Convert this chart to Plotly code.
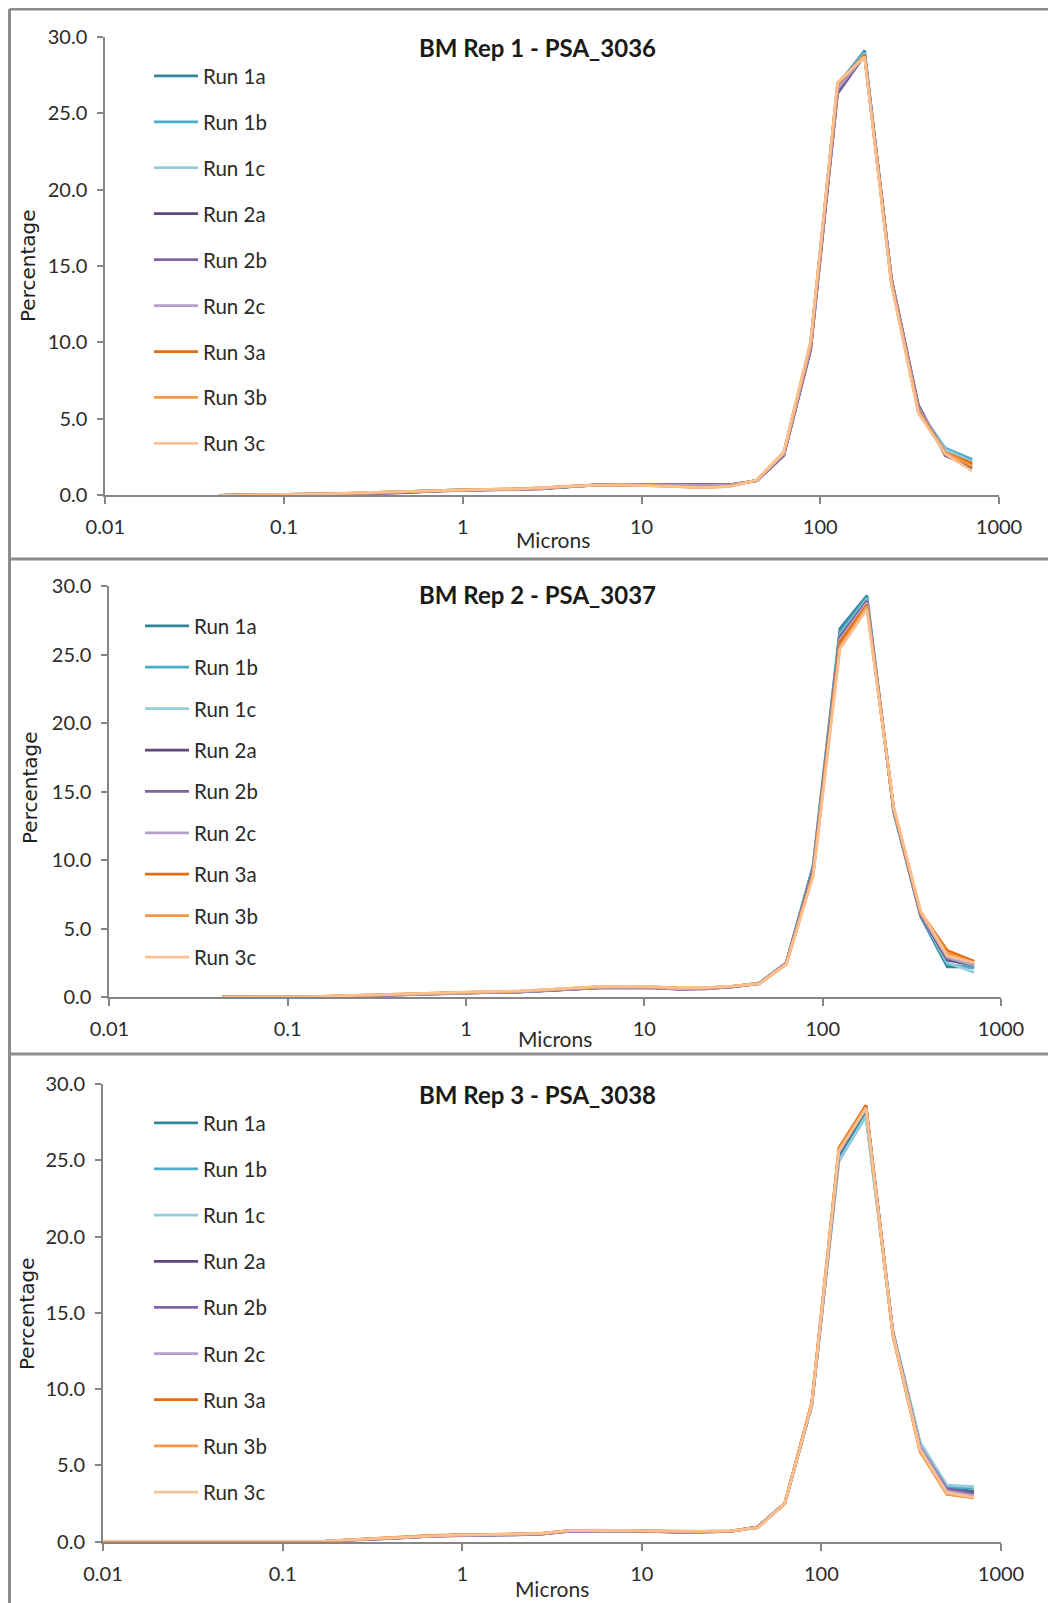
import plotly.graph_objects as go

# The page places the figure 8 px from the top-left corner of the window.
PAGE_OFFSET = 8
W, H = 1056 - PAGE_OFFSET, 1603 - PAGE_OFFSET

# ---------------- data ----------------
run_names = ["Run 1a", "Run 1b", "Run 1c", "Run 2a", "Run 2b", "Run 2c", "Run 3a", "Run 3b", "Run 3c"]
run_colors = ["#31859C", "#4BACC6", "#93CDDD", "#5F497A", "#8064A2", "#B3A2C7", "#E46C0A", "#F79646", "#FAC090"]

titles = ["BM Rep 1 - PSA_3036", "BM Rep 2 - PSA_3037", "BM Rep 3 - PSA_3038"]
x_tick_vals = [0.01, 0.1, 1, 10, 100, 1000]
x_tick_text = ["0.01", "0.1", "1", "10", "100", "1000"]
y_tick_vals = [0, 5, 10, 15, 20, 25, 30]

microns = [0.043, 0.061, 0.086, 0.122, 0.173, 0.244, 0.345, 0.488, 0.691, 0.977, 1.38, 1.95,
           2.76, 3.91, 5.52, 7.81, 11.0, 15.6, 22.1, 31.2, 44.2, 62.5, 88.4, 125, 177, 250, 354, 500, 707]
microns_rep3 = [0.01, 0.0153, 0.0216, 0.0305, 0.043, 0.061, 0.086, 0.122, 0.173, 0.244, 0.345, 0.488,
                0.691, 0.977, 1.38, 1.95, 2.76, 3.91, 5.52, 7.81, 11.0, 15.6, 22.1, 31.2, 44.2, 62.5,
                88.4, 125, 177, 250, 354, 500, 707]

# Rep 1
rep1_run1a = [0, 0.02, 0.03, 0.05, 0.08, 0.13, 0.19, 0.25, 0.31, 0.35, 0.37, 0.39, 0.46, 0.57, 0.66, 0.69, 0.67, 0.61, 0.56, 0.63, 0.98, 2.7, 9.9, 26.8, 29.1, 14.1, 5.6, 3.0, 2.3]
rep1_run1b = [0, 0.02, 0.03, 0.05, 0.08, 0.13, 0.19, 0.25, 0.31, 0.35, 0.37, 0.39, 0.46, 0.57, 0.66, 0.69, 0.67, 0.61, 0.56, 0.63, 0.98, 2.7, 9.9, 26.9, 29.0, 14.0, 5.6, 3.1, 2.35]
rep1_run1c = [0, 0.02, 0.03, 0.05, 0.08, 0.13, 0.19, 0.25, 0.31, 0.35, 0.37, 0.40, 0.47, 0.58, 0.67, 0.69, 0.67, 0.60, 0.55, 0.62, 0.99, 2.7, 9.8, 26.8, 28.9, 14.0, 5.5, 3.0, 2.2]
rep1_run2a = [0, 0, 0.01, 0.02, 0.04, 0.07, 0.11, 0.18, 0.28, 0.34, 0.36, 0.38, 0.42, 0.55, 0.68, 0.72, 0.72, 0.70, 0.68, 0.70, 0.95, 2.6, 9.5, 26.3, 28.8, 14.2, 5.9, 2.6, 1.8]
rep1_run2b = [0, 0.01, 0.02, 0.03, 0.05, 0.09, 0.13, 0.20, 0.29, 0.34, 0.36, 0.38, 0.43, 0.56, 0.68, 0.71, 0.71, 0.68, 0.66, 0.68, 0.96, 2.6, 9.6, 26.4, 28.8, 14.2, 5.8, 2.7, 2.0]
rep1_run2c = [0, 0.01, 0.02, 0.04, 0.06, 0.10, 0.15, 0.22, 0.30, 0.35, 0.37, 0.39, 0.44, 0.57, 0.67, 0.70, 0.70, 0.66, 0.63, 0.66, 0.97, 2.7, 9.7, 26.6, 28.8, 14.1, 5.7, 2.8, 2.0]
rep1_run3a = [0, 0.02, 0.03, 0.06, 0.09, 0.15, 0.20, 0.26, 0.32, 0.36, 0.38, 0.40, 0.48, 0.59, 0.66, 0.68, 0.65, 0.58, 0.52, 0.60, 1.0, 2.8, 10.0, 26.9, 28.8, 13.9, 5.5, 2.8, 2.1]
rep1_run3b = [0, 0.02, 0.04, 0.06, 0.09, 0.15, 0.21, 0.26, 0.32, 0.36, 0.38, 0.41, 0.48, 0.60, 0.66, 0.68, 0.65, 0.57, 0.51, 0.59, 1.0, 2.8, 10.0, 27.0, 28.7, 13.9, 5.4, 2.8, 1.9]
rep1_run3c = [0, 0.02, 0.04, 0.06, 0.10, 0.16, 0.21, 0.27, 0.33, 0.36, 0.38, 0.41, 0.49, 0.60, 0.66, 0.68, 0.64, 0.56, 0.50, 0.58, 1.0, 2.8, 10.1, 27.0, 28.7, 13.8, 5.4, 2.7, 1.6]

# Rep 2
rep2_run1a = [0, 0, 0, 0, 0.04, 0.09, 0.16, 0.21, 0.27, 0.32, 0.35, 0.38, 0.47, 0.59, 0.69, 0.71, 0.70, 0.60, 0.63, 0.75, 1.02, 2.5, 9.6, 26.9, 29.3, 13.5, 5.9, 2.2, 2.2]
rep2_run1b = [0, 0, 0, 0, 0.04, 0.09, 0.16, 0.21, 0.27, 0.32, 0.35, 0.38, 0.47, 0.59, 0.69, 0.71, 0.70, 0.60, 0.63, 0.75, 1.03, 2.5, 9.5, 26.6, 29.2, 13.6, 6.0, 2.4, 2.1]
rep2_run1c = [0, 0, 0, 0, 0.04, 0.09, 0.16, 0.22, 0.28, 0.33, 0.35, 0.38, 0.47, 0.60, 0.70, 0.72, 0.70, 0.60, 0.63, 0.76, 1.03, 2.5, 9.4, 26.4, 29.0, 13.6, 6.0, 2.5, 1.8]
rep2_run2a = [0, 0, 0, 0, 0.02, 0.06, 0.12, 0.18, 0.24, 0.29, 0.33, 0.36, 0.44, 0.56, 0.66, 0.68, 0.67, 0.57, 0.60, 0.73, 0.98, 2.5, 9.3, 26.3, 28.9, 13.7, 6.0, 2.7, 2.3]
rep2_run2b = [0, 0, 0, 0, 0.03, 0.07, 0.13, 0.19, 0.25, 0.30, 0.34, 0.37, 0.45, 0.57, 0.67, 0.69, 0.68, 0.58, 0.61, 0.74, 0.99, 2.5, 9.2, 26.2, 28.8, 13.7, 6.1, 2.8, 2.4]
rep2_run2c = [0, 0, 0, 0, 0.03, 0.08, 0.14, 0.20, 0.26, 0.31, 0.34, 0.37, 0.46, 0.58, 0.68, 0.70, 0.69, 0.59, 0.62, 0.74, 1.0, 2.5, 9.1, 26.1, 28.8, 13.7, 6.1, 2.9, 2.3]
rep2_run3a = [0, 0, 0, 0.01, 0.06, 0.12, 0.20, 0.26, 0.32, 0.37, 0.40, 0.42, 0.52, 0.64, 0.74, 0.76, 0.74, 0.64, 0.67, 0.79, 0.98, 2.4, 9.0, 25.9, 28.6, 13.8, 6.2, 3.4, 2.6]
rep2_run3b = [0, 0, 0, 0.01, 0.06, 0.12, 0.20, 0.26, 0.32, 0.37, 0.40, 0.42, 0.52, 0.64, 0.74, 0.76, 0.74, 0.64, 0.67, 0.79, 0.97, 2.4, 8.9, 25.6, 28.5, 13.8, 6.2, 3.2, 2.5]
rep2_run3c = [0, 0, 0, 0.01, 0.06, 0.12, 0.20, 0.27, 0.33, 0.38, 0.41, 0.43, 0.53, 0.65, 0.75, 0.77, 0.75, 0.65, 0.68, 0.80, 0.97, 2.4, 8.8, 25.4, 28.3, 13.9, 6.3, 3.0, 2.5]

# Rep 3
rep3_run1a = [0, 0, 0, 0, 0, 0, 0, 0, 0.02, 0.11, 0.19, 0.29, 0.39, 0.43, 0.44, 0.46, 0.52, 0.70, 0.73, 0.73, 0.69, 0.64, 0.66, 0.68, 0.93, 2.5, 9.0, 25.2, 28.2, 13.7, 6.3, 3.5, 3.3]
rep3_run1b = [0, 0, 0, 0, 0, 0, 0, 0, 0.02, 0.11, 0.19, 0.29, 0.39, 0.43, 0.44, 0.46, 0.52, 0.70, 0.73, 0.73, 0.69, 0.64, 0.66, 0.68, 0.94, 2.5, 8.9, 25.0, 27.9, 13.8, 6.5, 3.6, 3.5]
rep3_run1c = [0, 0, 0, 0, 0, 0, 0, 0, 0.02, 0.11, 0.19, 0.29, 0.39, 0.43, 0.44, 0.46, 0.53, 0.71, 0.74, 0.74, 0.70, 0.65, 0.67, 0.69, 0.94, 2.5, 8.9, 24.9, 27.9, 13.8, 6.5, 3.7, 3.6]
rep3_run2a = [0, 0, 0, 0, 0, 0, 0, 0, 0.01, 0.08, 0.15, 0.25, 0.35, 0.40, 0.42, 0.44, 0.48, 0.66, 0.70, 0.70, 0.66, 0.61, 0.62, 0.66, 0.96, 2.5, 9.0, 25.4, 28.6, 13.7, 6.2, 3.4, 3.2]
rep3_run2b = [0, 0, 0, 0, 0, 0, 0, 0, 0.01, 0.09, 0.16, 0.26, 0.36, 0.41, 0.42, 0.44, 0.49, 0.67, 0.71, 0.71, 0.67, 0.62, 0.63, 0.67, 0.96, 2.5, 9.0, 25.4, 28.6, 13.7, 6.2, 3.45, 3.15]
rep3_run2c = [0, 0, 0, 0, 0, 0, 0, 0, 0.02, 0.10, 0.17, 0.27, 0.37, 0.42, 0.43, 0.45, 0.50, 0.68, 0.72, 0.72, 0.68, 0.63, 0.64, 0.67, 0.95, 2.5, 9.0, 25.5, 28.5, 13.7, 6.2, 3.3, 3.0]
rep3_run3a = [0, 0, 0, 0, 0, 0, 0, 0, 0, 0.12, 0.20, 0.30, 0.40, 0.43, 0.45, 0.47, 0.53, 0.71, 0.72, 0.72, 0.68, 0.66, 0.67, 0.68, 0.90, 2.5, 9.1, 25.8, 28.6, 13.5, 5.9, 3.1, 2.9]
rep3_run3b = [0, 0, 0, 0, 0, 0, 0, 0, 0.01, 0.12, 0.20, 0.30, 0.40, 0.43, 0.45, 0.47, 0.53, 0.71, 0.72, 0.72, 0.68, 0.66, 0.67, 0.69, 0.90, 2.5, 9.1, 25.7, 28.5, 13.5, 6.0, 3.1, 2.85]
rep3_run3c = [0, 0, 0, 0, 0, 0, 0, 0, 0.02, 0.12, 0.20, 0.31, 0.40, 0.44, 0.45, 0.47, 0.54, 0.72, 0.73, 0.73, 0.69, 0.66, 0.67, 0.69, 0.91, 2.5, 9.0, 25.6, 28.4, 13.6, 6.0, 3.2, 2.9]

rep_series = [
    (microns, [rep1_run1a, rep1_run1b, rep1_run1c, rep1_run2a, rep1_run2b, rep1_run2c, rep1_run3a, rep1_run3b, rep1_run3c]),
    (microns, [rep2_run1a, rep2_run1b, rep2_run1c, rep2_run2a, rep2_run2b, rep2_run2c, rep2_run3a, rep2_run3b, rep2_run3c]),
    (microns_rep3, [rep3_run1a, rep3_run1b, rep3_run1c, rep3_run2a, rep3_run2b, rep3_run2c, rep3_run3a, rep3_run3b, rep3_run3c]),
]

# ---------------- layout geometry (window pixels -> paper fractions) ----------------
def px(xp):
    return (xp - PAGE_OFFSET) / W

def py(yp):
    return 1 - (yp - PAGE_OFFSET) / H

panels = [
    dict(xl=105.3, xr=999, yt=36.8, yb=495.3, ty=47, ylx=28, yly=266, xlx=553, xly=540, lgx=149, lgy=56, gap=16.3),
    dict(xl=109.4, xr=1001, yt=586, yb=997, ty=594, ylx=30, yly=788, xlx=555, xly=1038, lgx=140, lgy=606, gap=11.75),
    dict(xl=103, xr=1001, yt=1084, yb=1541.5, ty=1094, ylx=27, yly=1314, xlx=552, xly=1588, lgx=149, lgy=1103, gap=16.5),
]

TICK_FONT = dict(family="Lato, Carlito, sans-serif", size=20, color="#2b2b2b")
AXIS_COLOR = "#868686"

fig = go.Figure()
layout = dict(
    width=W, height=H,
    margin=dict(l=0, r=0, t=0, b=0, pad=0, autoexpand=False),
    paper_bgcolor="white", plot_bgcolor="white",
    showlegend=True,
    annotations=[], shapes=[],
)

for i, (p, (xs, series)) in enumerate(zip(panels, rep_series)):
    n = "" if i == 0 else str(i + 1)
    leg = "legend" if i == 0 else f"legend{i + 1}"
    for name, color, ys in zip(run_names, run_colors, series):
        fig.add_trace(go.Scatter(
            x=xs, y=ys, mode="lines", name=name,
            line=dict(color=color, width=2.75),
            xaxis=f"x{n}", yaxis=f"y{n}",
            legend=leg, legendgroup=f"rep{i}_{name}",
        ))
    layout[f"xaxis{n}"] = dict(
        type="log", range=[-2, 3], domain=[px(p["xl"]), px(p["xr"])],
        anchor=f"y{n}", tickvals=x_tick_vals, ticktext=x_tick_text, automargin=False,
        showgrid=False, zeroline=False, showline=True, linecolor=AXIS_COLOR, linewidth=2,
        ticks="outside", ticklen=7, tickwidth=2, tickcolor=AXIS_COLOR,
        tickfont=TICK_FONT, ticklabelstandoff=6,
    )
    layout[f"yaxis{n}"] = dict(
        range=[0, 30], domain=[py(p["yb"]), py(p["yt"])], anchor=f"x{n}",
        tickvals=y_tick_vals, tickformat=".1f", automargin=False,
        showgrid=False, zeroline=False, showline=True, linecolor=AXIS_COLOR, linewidth=2,
        ticks="outside", ticklen=6, tickwidth=2, tickcolor=AXIS_COLOR,
        tickfont=TICK_FONT, ticklabelstandoff=6,
    )
    layout[leg] = dict(
        x=px(p["lgx"]), y=py(p["lgy"]), xanchor="left", yanchor="top",
        bgcolor="rgba(0,0,0,0)", borderwidth=0,
        font=dict(family="Lato, Carlito, sans-serif", size=20.5, color="#2b2b2b"),
        tracegroupgap=p["gap"], itemwidth=44, traceorder="grouped",
    )
    layout["annotations"] += [
        dict(text=f"<b>{titles[i]}</b>", x=px(537), y=py(p["ty"]), xref="paper", yref="paper",
             xanchor="center", yanchor="middle", showarrow=False,
             font=dict(family="Lato, Carlito, sans-serif", size=24, color="#1a1a1a")),
        dict(text="Percentage", x=px(p["ylx"]), y=py(p["yly"]), xref="paper", yref="paper",
             xanchor="center", yanchor="middle", showarrow=False, textangle=-90,
             font=dict(family="DejaVu Sans, Verdana, sans-serif", size=20, color="#1f1f1f")),
        dict(text="Microns", x=px(p["xlx"]), y=py(p["xly"]), xref="paper", yref="paper",
             xanchor="center", yanchor="middle", showarrow=False,
             font=dict(family="Lato, Carlito, sans-serif", size=21, color="#2b2b2b")),
    ]

# panel frames (gray borders)
FRAME = dict(color="#8C8C8C", width=3)
for (x0, y0, x1, y1) in [(9.5, 9, 1056, 9), (9.5, 9, 9.5, 1603), (9.5, 559, 1056, 559), (9.5, 1054, 1056, 1054)]:
    layout["shapes"].append(dict(type="line", xref="paper", yref="paper",
                                 x0=px(x0), y0=py(y0), x1=px(x1), y1=py(y1), line=FRAME))

fig.update_layout(**layout)
fig.write_html("out.html")
